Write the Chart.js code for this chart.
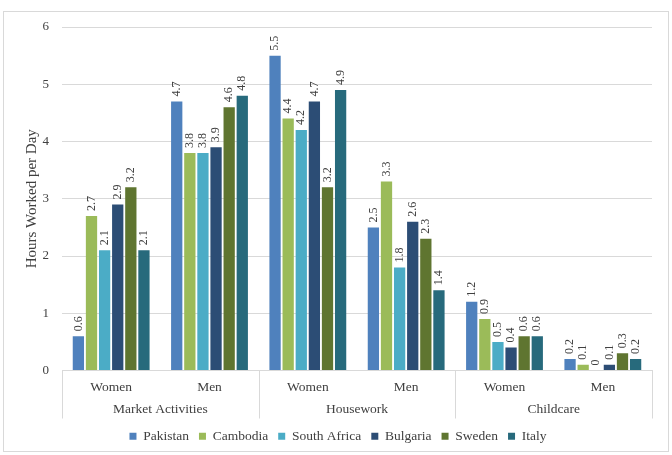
<!DOCTYPE html>
<html>
<head>
<meta charset="utf-8">
<script src="https://cdn.jsdelivr.net/npm/chart.js@4.4.0/dist/chart.umd.min.js"></script>
<style>
  html, body { margin: 0; padding: 0; background: #fff; }
  #wrap { width: 672px; height: 455px; position: relative; }
</style>
</head>
<body>
<div id="wrap"><canvas id="hoursChart" width="672" height="455"></canvas></div>
<script>
// Hours worked per day, by activity and sex

const subLabels = ['Women', 'Men', 'Women', 'Men', 'Women', 'Men'];
const groupLabels = ['Market Activities', 'Housework', 'Childcare'];
const yTicks = [0, 1, 2, 3, 4, 5, 6];

const pakistan    = [0.6, 4.7, 5.5, 2.5, 1.2, 0.2];
const cambodia    = [2.7, 3.8, 4.4, 3.3, 0.9, 0.1];
const southAfrica = [2.1, 3.8, 4.2, 1.8, 0.5, 0];
const bulgaria    = [2.9, 3.9, 4.7, 2.6, 0.4, 0.1];
const sweden      = [3.2, 4.6, 3.2, 2.3, 0.6, 0.3];
const italy       = [2.1, 4.8, 4.9, 1.4, 0.6, 0.2];

const countries = ['Pakistan', 'Cambodia', 'South Africa', 'Bulgaria', 'Sweden', 'Italy'];
const colors = ['#4F81BD', '#9BBB59', '#4BACC6', '#2C4D75', '#5F7530', '#276A7C'];
const seriesValues = [pakistan, cambodia, southAfrica, bulgaria, sweden, italy];

const FONT = '"Liberation Serif", "Times New Roman", serif';
const TEXT = '#404040';

// rotated value labels above each bar
const valueLabels = {
    id: 'valueLabels',
    afterDatasetsDraw(chart) {
        const ctx = chart.ctx;
        ctx.save();
        ctx.font = '12px ' + FONT;
        ctx.fillStyle = TEXT;
        chart.data.datasets.forEach((ds, i) => {
            chart.getDatasetMeta(i).data.forEach((bar, j) => {
                ctx.save();
                ctx.translate(bar.x, bar.y - 5);
                ctx.rotate(-Math.PI / 2);
                ctx.textAlign = 'left';
                ctx.textBaseline = 'middle';
                ctx.fillText(String(ds.data[j]), 0, 0);
                ctx.restore();
            });
        });
        ctx.restore();
    }
};

// second row of category labels plus separators, and outer frame
const groupAxis = {
    id: 'groupAxis',
    afterDraw(chart) {
        const ctx = chart.ctx;
        const x = chart.scales.x;
        const area = chart.chartArea;
        const step = x.getPixelForValue(1) - x.getPixelForValue(0);
        ctx.save();
        ctx.strokeStyle = '#d9d9d9';
        ctx.lineWidth = 1;
        for (let g = 0; g <= groupLabels.length; g++) {
            const px = Math.round(x.getPixelForValue(g * 2) - step / 2) + 0.5;
            ctx.beginPath();
            ctx.moveTo(px, area.bottom);
            ctx.lineTo(px, area.bottom + 48);
            ctx.stroke();
        }
        ctx.font = '13.5px ' + FONT;
        ctx.fillStyle = TEXT;
        ctx.textAlign = 'center';
        ctx.textBaseline = 'middle';
        groupLabels.forEach((g, k) => {
            const cx = (x.getPixelForValue(k * 2) + x.getPixelForValue(k * 2 + 1)) / 2;
            ctx.fillText(g, cx, area.bottom + 39);
        });
        ctx.strokeStyle = '#d9d9d9';
        ctx.strokeRect(3.5, 11.5, 665, 440);
        ctx.restore();
    }
};

new Chart(document.getElementById('hoursChart').getContext('2d'), {
    type: 'bar',
    data: {
        labels: subLabels,
        datasets: countries.map((name, i) => ({
            label: name,
            data: seriesValues[i],
            backgroundColor: colors[i],
            borderWidth: 0,
            barPercentage: 0.86,
            categoryPercentage: 0.8
        }))
    },
    options: {
        responsive: false,
        animation: false,
        layout: { padding: { top: 27, right: 8, bottom: 2, left: 12 } },
        plugins: {
            legend: {
                position: 'bottom',
                labels: {
                    boxWidth: 7,
                    boxHeight: 7,
                    padding: 10,
                    color: TEXT,
                    font: { family: FONT, size: 13.5 }
                }
            },
            tooltip: { enabled: false }
        },
        scales: {
            y: {
                min: 0,
                max: 6,
                afterBuildTicks: (s) => { s.ticks = yTicks.map(v => ({ value: v })); },
                afterFit: (s) => { s.width = 50; },
                grid: { color: '#d9d9d9', drawTicks: false },
                border: { display: false },
                ticks: {
                    padding: 13,
                    color: TEXT,
                    font: { family: FONT, size: 13 }
                },
                title: {
                    display: true,
                    text: 'Hours Worked per Day',
                    color: TEXT,
                    padding: { top: 11, bottom: 4 },
                    font: { family: FONT, size: 15 }
                }
            },
            // empty right-hand spacer so the legend centres on the frame
            yRight: {
                position: 'right',
                display: true,
                min: 0,
                max: 6,
                afterFit: (s) => { s.width = 12; },
                grid: { display: false, drawOnChartArea: false },
                border: { display: false },
                ticks: { display: false }
            },
            x: {
                afterFit: (s) => { s.height = 49; },
                grid: { display: false },
                border: { display: true, color: '#d9d9d9' },
                ticks: {
                    padding: 1,
                    color: TEXT,
                    font: { family: FONT, size: 13.5 }
                }
            }
        }
    },
    plugins: [valueLabels, groupAxis]
});
</script>
</body>
</html>
